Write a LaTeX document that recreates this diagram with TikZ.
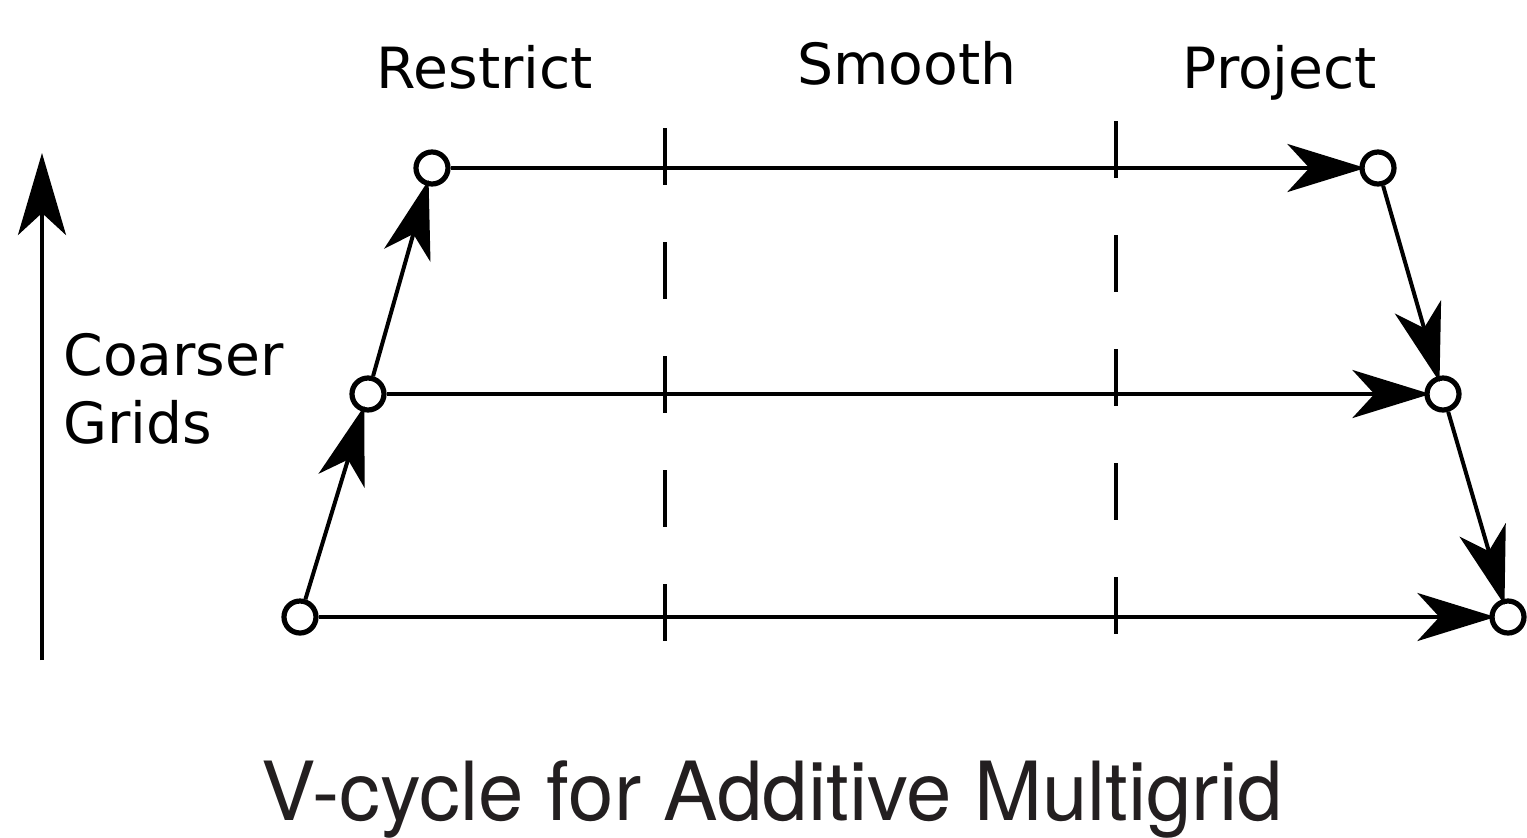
\documentclass[tikz,border=0pt]{standalone}
\usepackage{fontspec}
\setmainfont{DejaVu Sans}
\newfontfamily\titlefont{TeX Gyre Heros}
\usetikzlibrary{arrows.meta}
\definecolor{titlegray}{HTML}{231F20}
\begin{document}
\begin{tikzpicture}[x=0.5pt,y=-0.5pt,
  arr/.style={line width=2pt,-{Stealth[length=39pt,width=24pt,inset=11pt]},shorten >=-3pt},
  pt/.style={circle,draw,line width=2.6pt,minimum size=16pt,inner sep=0pt},
  sepline/.style={line width=2pt,dash pattern=on 28.5pt off 28.5pt},
  lbl/.style={font=\fontsize{28.4pt}{34pt}\selectfont,inner sep=0pt},
]
\useasboundingbox (0,0) rectangle (1527,837);

% grid points
\node[pt] (tl) at (432,168) {};
\node[pt] (tr) at (1378,168) {};
\node[pt] (ml) at (368,394) {};
\node[pt] (mr) at (1443,394) {};
\node[pt] (bl) at (300,617) {};
\node[pt] (br) at (1508,617) {};

% phase separators
\coordinate (s1a) at (665,128);
\coordinate (s1b) at (665,641);
\coordinate (s2a) at (1116,121);
\coordinate (s2b) at (1116,634);
\draw[sepline] (s1a) -- (s1b);
\draw[sepline] (s2a) -- (s2b);

% connectors
\draw[arr] (bl) -- (ml);
\draw[arr] (ml) -- (tl);
\draw[arr] (tl) -- (tr);
\draw[arr] (ml) -- (mr);
\draw[arr] (bl) -- (br);
\draw[arr] (tr) -- (mr);
\draw[arr] (mr) -- (br);

% coarser arrow
\coordinate (ca) at (42,660);
\coordinate (cb) at (42,153);
\draw[line width=2pt,-{Stealth[length=41pt,width=24pt,inset=11pt]}] (ca) -- (cb);

% labels
\node[lbl,anchor=base] (restrict) at (485,88) {Restrict};
\node[lbl,anchor=base] (smooth) at (907,84) {Smooth};
\node[lbl,anchor=base] (project) at (1280,88) {Project};
\node[lbl,anchor=base west] (coarser) at (63,375) {Coarser};
\node[lbl,anchor=base west] (grids) at (63,443) {Grids};
\node[inner sep=0pt,anchor=base,text=titlegray,font=\titlefont\fontsize{40.8pt}{48pt}\selectfont] (title) at (772,820) {V-cycle for Additive Multigrid};
\end{tikzpicture}
\end{document}
